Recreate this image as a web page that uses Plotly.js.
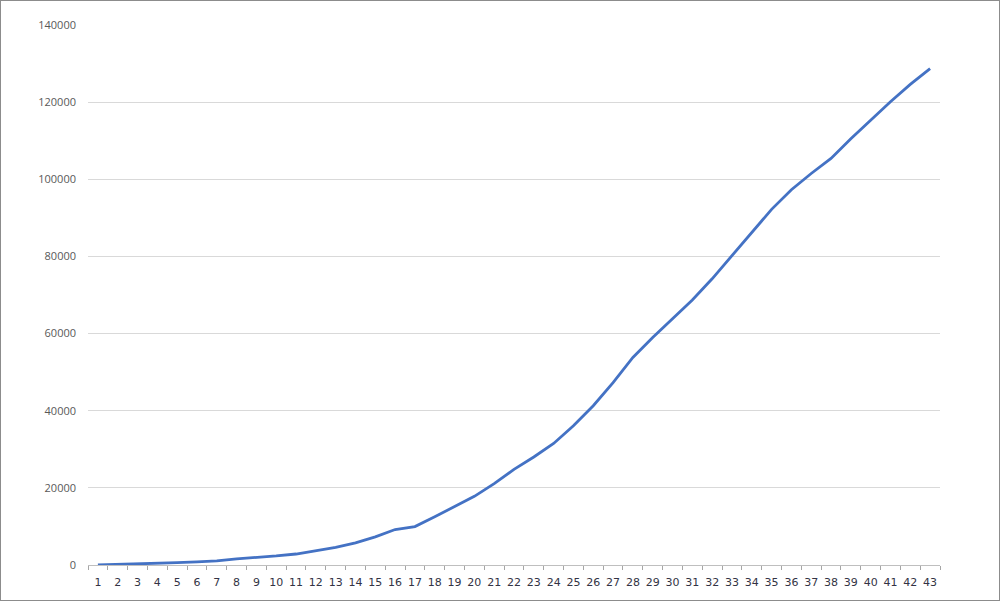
<!DOCTYPE html>
<html>
<head>
<meta charset="utf-8">
<script src="https://cdn.plot.ly/plotly-3.0.1.min.js"></script>
<style>
  body { margin: 0; background: #fff; }
  #chart { width: 998px; height: 599px; border: 1px solid #8c8c8c; }
</style>
</head>
<body>
<div id="chart"></div>
<script>
const days = [];
for (let i = 1; i <= 43; i++) days.push(String(i));

const cases = [
    0, 100, 300, 400, 600, 800, 1050, 1600, 1900, 2350,
    2850, 3650, 4550, 5750, 7300, 9200, 9950, 12500, 15100, 17800,
    21100, 24800, 28000, 31500, 36100, 41300, 47300, 53800, 59000, 63800,
    68700, 74200, 80200, 86300, 92200, 97300, 101500, 105400, 110500, 115300,
    120100, 124600, 128700
];

const yTicks = [0, 20000, 40000, 60000, 80000, 100000, 120000, 140000];

const yFont = { family: 'Open Sans, Liberation Sans, sans-serif', size: 11, color: '#595959' };
const xFont = { family: 'DejaVu Sans, Verdana, sans-serif', size: 11, color: '#333344' };

Plotly.newPlot('chart', [
    {
        x: days,
        y: cases,
        type: 'scatter',
        mode: 'lines',
        line: { color: '#4472C4', width: 2.8 },
        hoverinfo: 'skip'
    }
], {
    width: 998,
    height: 599,
    margin: { l: 87, r: 59, t: 24, b: 35 },
    xaxis: {
        type: 'category',
        range: [-0.5, days.length - 0.5],
        tickmode: 'array',
        tickvals: days,
        ticktext: days,
        tickangle: 0,
        tickson: 'boundaries',
        ticks: 'outside',
        ticklen: 4,
        tickcolor: '#a6a6a6',
        showgrid: false,
        showline: true,
        linecolor: '#bfbfbf',
        linewidth: 1,
        ticklabelstandoff: 7,
        tickfont: xFont,
        zeroline: false
    },
    yaxis: {
        range: [0, 140000],
        tickvals: yTicks,
        ticktext: yTicks.map(String),
        showgrid: true,
        gridcolor: '#d9d9d9',
        gridwidth: 1,
        zeroline: false,
        showline: false,
        ticks: '',
        ticklabelstandoff: 11,
        tickfont: yFont
    },
    plot_bgcolor: '#fff',
    paper_bgcolor: '#fff',
    showlegend: false,
    hovermode: false
}, { displayModeBar: false, staticPlot: true });
</script>
</body>
</html>
